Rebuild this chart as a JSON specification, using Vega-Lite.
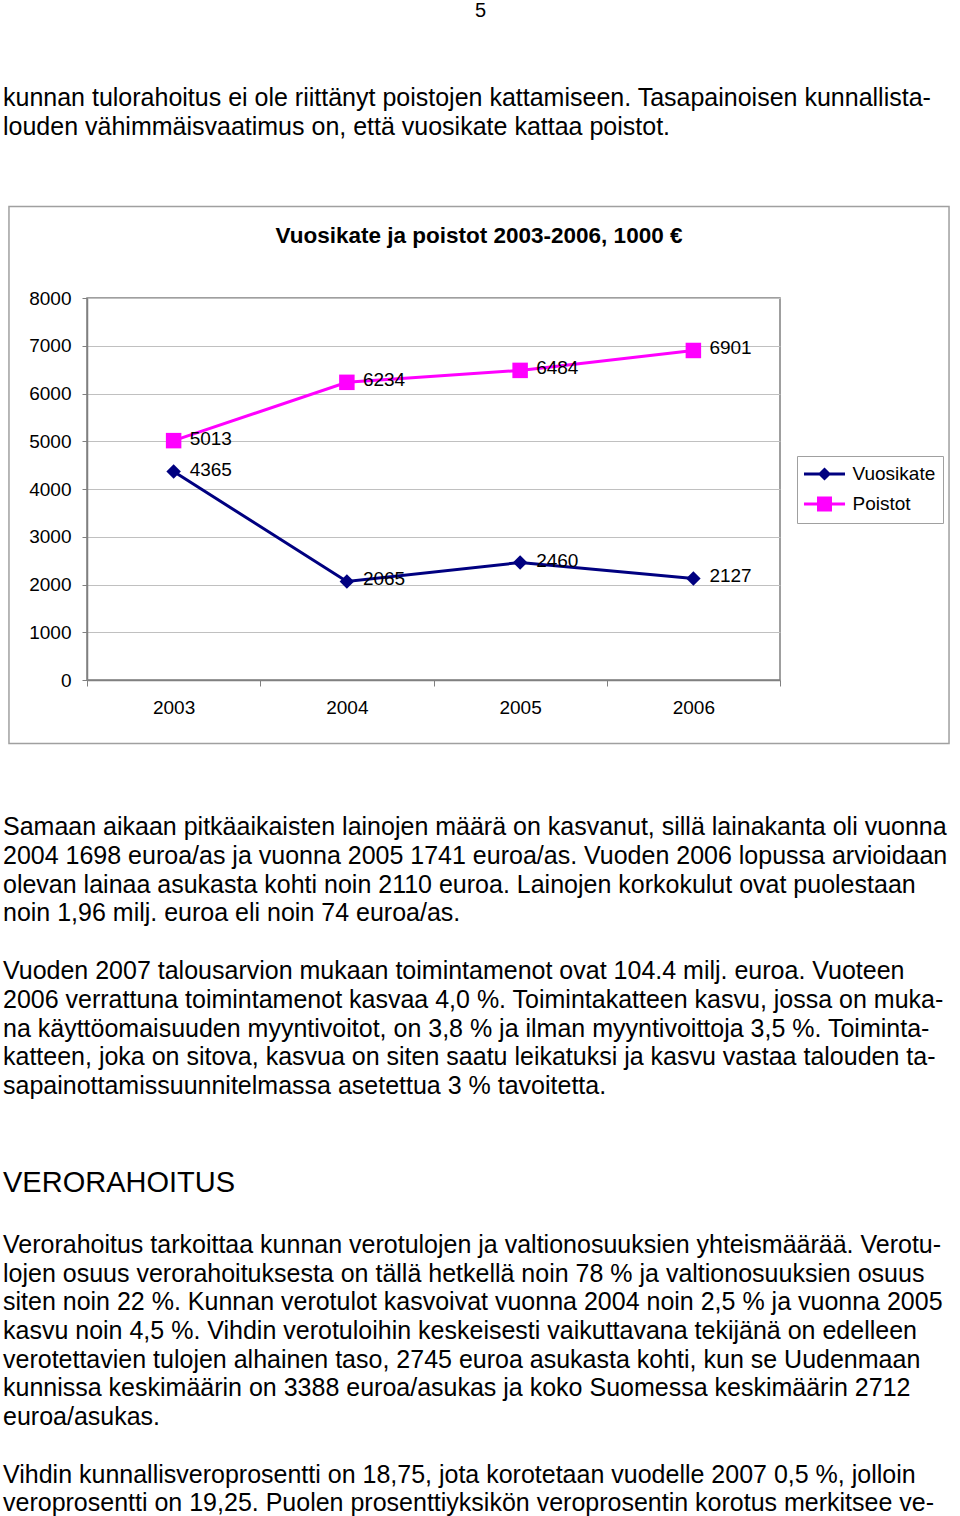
{
  "$schema": "https://vega.github.io/schema/vega-lite/v6.json",
  "padding": {"left": 3, "top": 0, "right": 0, "bottom": 0},
  "spacing": 0,
  "bounds": "flush",
  "background": "white",
  "config": {
    "font": "Liberation Sans",
    "view": {"stroke": null},
    "text": {"font": "Liberation Sans", "color": "black"}
  },
  "datasets": {
    "page": [{"text": "5"}],
    "intro": [
      {"line": 1, "text": "kunnan tulorahoitus ei ole riittänyt poistojen kattamiseen. Tasapainoisen kunnallista-"},
      {"line": 2, "text": "louden vähimmäisvaatimus on, että vuosikate kattaa poistot."}
    ],
    "series": [
      {"year": "2003", "series": "Vuosikate", "value": 4365},
      {"year": "2004", "series": "Vuosikate", "value": 2065},
      {"year": "2005", "series": "Vuosikate", "value": 2460},
      {"year": "2006", "series": "Vuosikate", "value": 2127},
      {"year": "2003", "series": "Poistot", "value": 5013},
      {"year": "2004", "series": "Poistot", "value": 6234},
      {"year": "2005", "series": "Poistot", "value": 6484},
      {"year": "2006", "series": "Poistot", "value": 6901}
    ],
    "para1": [
      {"line": 1, "text": "Samaan aikaan pitkäaikaisten lainojen määrä on kasvanut, sillä lainakanta oli vuonna"},
      {"line": 2, "text": "2004 1698 euroa/as ja vuonna 2005 1741 euroa/as. Vuoden 2006 lopussa arvioidaan"},
      {"line": 3, "text": "olevan lainaa asukasta kohti noin 2110 euroa. Lainojen korkokulut ovat puolestaan"},
      {"line": 4, "text": "noin 1,96 milj. euroa eli noin 74 euroa/as."},
      {"line": 6, "text": "Vuoden 2007 talousarvion mukaan toimintamenot ovat 104.4 milj. euroa. Vuoteen"},
      {"line": 7, "text": "2006 verrattuna toimintamenot kasvaa 4,0 %.  Toimintakatteen kasvu, jossa on muka-"},
      {"line": 8, "text": "na käyttöomaisuuden myyntivoitot, on 3,8 % ja ilman myyntivoittoja 3,5 %. Toiminta-"},
      {"line": 9, "text": "katteen, joka on sitova, kasvua on siten saatu leikatuksi ja kasvu vastaa talouden ta-"},
      {"line": 10, "text": "sapainottamissuunnitelmassa asetettua 3 % tavoitetta."}
    ],
    "heading": [{"text": "VERORAHOITUS"}],
    "para2": [
      {"line": 1, "text": "Verorahoitus tarkoittaa kunnan verotulojen ja valtionosuuksien yhteismäärää. Verotu-"},
      {"line": 2, "text": "lojen osuus verorahoituksesta on tällä hetkellä noin 78 % ja valtionosuuksien osuus"},
      {"line": 3, "text": "siten noin 22 %. Kunnan verotulot kasvoivat vuonna 2004 noin 2,5 % ja vuonna 2005"},
      {"line": 4, "text": "kasvu noin 4,5 %. Vihdin verotuloihin keskeisesti vaikuttavana tekijänä on edelleen"},
      {"line": 5, "text": "verotettavien tulojen alhainen taso, 2745 euroa asukasta kohti, kun se Uudenmaan"},
      {"line": 6, "text": "kunnissa keskimäärin on 3388 euroa/asukas ja koko Suomessa keskimäärin 2712"},
      {"line": 7, "text": "euroa/asukas."},
      {"line": 9, "text": "Vihdin kunnallisveroprosentti on 18,75, jota korotetaan vuodelle 2007 0,5 %, jolloin"},
      {"line": 10, "text": "veroprosentti on 19,25.  Puolen prosenttiyksikön veroprosentin korotus merkitsee ve-"}
    ]
  },
  "vconcat": [
    {
      "width": 787, "height": 22,
      "data": {"name": "page"},
      "mark": {"type": "text", "fontSize": 20, "font": "Liberation Sans Narrow, Liberation Sans"},
      "encoding": {"text": {"field": "text"}}
    },
    {
      "width": 787, "height": 276,
      "data": {"name": "intro"},
      "mark": {"type": "text", "align": "left", "baseline": "middle", "fontSize": 25, "dx": -84},
      "encoding": {
        "x": {"datum": 0, "type": "quantitative", "scale": {"domain": [0, 1], "nice": false}, "axis": null},
        "y": {"field": "line", "type": "quantitative", "scale": {"domain": [-1.64, 7.943], "nice": false, "reverse": true}, "axis": null},
        "text": {"field": "text"}
      }
    },
    {
      "width": 693, "height": 382,
      "view": {"stroke": "#808080", "strokeWidth": 1.5},
      "title": {"text": "Vuosikate ja poistot 2003-2006, 1000 €", "fontSize": 22.5, "fontWeight": "bold", "font": "Liberation Sans", "color": "black", "anchor": "middle", "frame": "bounds", "offset": -42},
      "layer": [
        {
          "data": {"values": [{}]},
          "mark": {"type": "rect", "filled": false, "stroke": "#a0a0a0", "strokeWidth": 1.5},
          "encoding": {
            "x": {"datum": -0.1126, "type": "quantitative", "scale": {"domain": [0, 1], "nice": false}, "axis": null},
            "x2": {"datum": 1.2439},
            "y": {"datum": 1.2395, "type": "quantitative", "scale": {"domain": [0, 1], "nice": false}, "axis": null},
            "y2": {"datum": -0.1662}
          }
        },
        {
          "data": {"name": "series"},
          "encoding": {
            "x": {"field": "year", "type": "ordinal", "scale": {"type": "band", "paddingInner": 0, "paddingOuter": 0},
              "axis": {"title": null, "labelAngle": 0, "labelFontSize": 19, "labelColor": "black", "labelFont": "Liberation Sans", "labelPadding": 12, "tickBand": "extent", "tickSize": 6, "tickColor": "#808080", "domainColor": "#808080", "domainWidth": 1.5, "grid": false}},
            "y": {"field": "value", "type": "quantitative", "scale": {"domain": [0, 8000], "nice": false},
              "axis": {"title": null, "values": [0, 1000, 2000, 3000, 4000, 5000, 6000, 7000, 8000], "format": "d", "labelFontSize": 19, "labelColor": "black", "labelFont": "Liberation Sans", "labelPadding": 11, "tickSize": 5, "tickColor": "#808080", "domainColor": "#808080", "domainWidth": 1.5, "grid": true, "gridColor": "#c0c0c0", "gridWidth": 1}},
            "color": {"field": "series", "type": "nominal",
              "scale": {"domain": ["Vuosikate", "Poistot"], "range": ["#000080", "#ff00ff"]},
              "legend": {
                "title": null, "orient": "none", "legendX": 710, "legendY": 456,
                "padding": 7, "strokeColor": "#a0a0a0", "fillColor": "white", "cornerRadius": 0,
                "labelFontSize": 19, "labelFont": "Liberation Sans", "labelColor": "black",
                "symbolSize": 361, "symbolStrokeWidth": 3, "symbolOffset": 9.5, "labelOffset": 17, "rowPadding": 7,
                "encode": {"symbols": {"update": {
                  "shape": {"signal": "datum.value === 'Vuosikate' ? 'M-2.16,0L2.16,0M0,-0.47L0.47,0L0,0.47L-0.47,0Z' : 'M-2.16,0L2.16,0M-0.63,-0.63L0.63,-0.63L0.63,0.63L-0.63,0.63Z'"},
                  "fill": {"signal": "datum.value === 'Vuosikate' ? '#000080' : '#ff00ff'"},
                  "stroke": {"signal": "datum.value === 'Vuosikate' ? '#000080' : '#ff00ff'"},
                  "strokeWidth": {"value": 3},
                  "opacity": {"value": 1},
                  "fillOpacity": {"value": 1}
                }}}
              }}
          },
          "layer": [
            {"mark": {"type": "line", "strokeWidth": 3}},
            {"transform": [{"filter": "datum.series === 'Vuosikate'"}], "mark": {"type": "point", "shape": "diamond", "size": 210, "filled": true, "opacity": 1}},
            {"transform": [{"filter": "datum.series === 'Poistot'"}], "mark": {"type": "point", "shape": "square", "size": 240, "filled": true, "opacity": 1}},
            {"mark": {"type": "text", "align": "left", "baseline": "middle", "dx": 16, "dy": -2, "fontSize": 19, "color": "black"},
             "encoding": {"text": {"field": "value", "type": "quantitative", "format": "d"}, "color": {"value": "black"}}}
          ]
        }
      ],
      "resolve": {"scale": {"x": "independent", "y": "independent"}}
    },
    {
      "width": 787, "height": 460,
      "data": {"name": "para1"},
      "mark": {"type": "text", "align": "left", "baseline": "middle", "fontSize": 25, "dx": -84},
      "encoding": {
        "x": {"datum": 0, "type": "quantitative", "scale": {"domain": [0, 1], "nice": false}, "axis": null},
        "y": {"field": "line", "type": "quantitative", "scale": {"domain": [-4.104, 11.868], "nice": false, "reverse": true}, "axis": null},
        "text": {"field": "text"}
      }
    },
    {
      "width": 787, "height": 86,
      "data": {"name": "heading"},
      "mark": {"type": "text", "align": "left", "baseline": "middle", "fontSize": 29, "dx": -84},
      "encoding": {
        "x": {"datum": 0, "type": "quantitative", "scale": {"domain": [0, 1], "nice": false}, "axis": null},
        "text": {"field": "text"}
      }
    },
    {
      "width": 787, "height": 285,
      "data": {"name": "para2"},
      "mark": {"type": "text", "align": "left", "baseline": "middle", "fontSize": 25, "dx": -84},
      "encoding": {
        "x": {"datum": 0, "type": "quantitative", "scale": {"domain": [0, 1], "nice": false}, "axis": null},
        "y": {"field": "line", "type": "quantitative", "scale": {"domain": [0.34, 10.27], "nice": false, "reverse": true}, "axis": null},
        "text": {"field": "text"}
      }
    }
  ]
}
